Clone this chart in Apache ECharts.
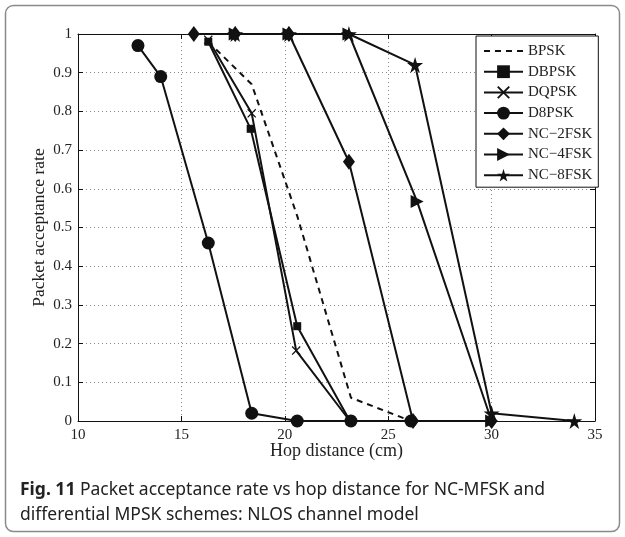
<!DOCTYPE html>
<html>
<head>
<meta charset="utf-8">
<script src="https://cdn.jsdelivr.net/npm/echarts@6.0.0/dist/echarts.min.js"></script>
<style>
html,body{margin:0;padding:0;background:#fff;}
#chart{width:625px;height:537px;}
</style>
</head>
<body>
<div id="chart"></div>
<script>
// ---- data (hop distance in cm, packet acceptance rate) ----
var seriesNames = ['BPSK', 'DBPSK', 'DQPSK', 'D8PSK', 'NC\u22122FSK', 'NC\u22124FSK', 'NC\u22128FSK'];
var bpsk   = [[16.3, 0.98], [18.4, 0.87], [20.6, 0.53], [23.2, 0.06], [26.1, 0]];
var dbpsk  = [[16.3, 0.98], [18.35, 0.755], [20.6, 0.245], [23.15, 0]];
var dqpsk  = [[16.3, 0.985], [18.4, 0.795], [20.55, 0.182], [23.15, 0]];
var d8psk  = [[12.9, 0.97], [14.0, 0.89], [16.3, 0.46], [18.4, 0.02], [20.6, 0], [23.2, 0], [26.1, 0]];
var nc2fsk = [[15.6, 1.0], [17.6, 1.0], [20.2, 1.0], [23.1, 0.67], [26.2, 0], [30, 0]];
var nc4fsk = [[17.6, 1.0], [20.2, 1.0], [23.1, 1.0], [26.4, 0.567], [30, 0]];
var nc8fsk = [[17.6, 1.0], [20.2, 1.0], [23.1, 1.0], [26.3, 0.92], [30, 0.02], [34, 0]];
var xTicks = {min: 10, max: 35, interval: 5};
var yTicks = {min: 0, max: 1, interval: 0.1};
var captionBold = 'Fig. 11';
var captionLine1 = ' Packet acceptance rate vs hop distance for NC-MFSK and';
var captionLine2 = 'differential MPSK schemes: NLOS channel model';

var INK = '#111';
var serif = '"Liberation Serif", "DejaVu Serif", serif';
var sans = '"Noto Sans", "Open Sans", sans-serif';
var starPath = 'path://M50,0 L61,35 L98,35 L68,57 L79,91 L50,70 L21,91 L32,57 L2,35 L39,35 Z';
var crossPath = 'path://M1,0 L5,4 L9,0 L10,1 L6,5 L10,9 L9,10 L5,6 L1,10 L0,9 L4,5 L0,1 Z';
var triRight = 'path://M0,0 L10,5 L0,10 Z';

function mk(name, data, symbol, size, dashed) {
  return {
    name: name, type: 'line', data: data,
    xAxisIndex: 0, yAxisIndex: 0,
    symbol: symbol, symbolSize: size, showSymbol: !dashed,
    lineStyle: {color: INK, width: 2, type: dashed ? [6, 5] : 'solid'},
    itemStyle: {color: dashed ? 'rgba(0,0,0,0)' : INK, borderColor: dashed ? 'rgba(0,0,0,0)' : INK, borderWidth: 0},
    animation: false, z: 3
  };
}

var chart = echarts.init(document.getElementById('chart'), null, {renderer: 'canvas'});
var axisCommon = {
  type: 'value',
  axisLine: {show: true, onZero: false, lineStyle: {color: INK, width: 1}},
  axisTick: {show: true, inside: true, length: 5, lineStyle: {color: INK}},
  splitLine: {show: true, lineStyle: {color: '#888', width: 1, type: [1, 3]}},
  axisLabel: {color: '#222', fontFamily: serif, fontSize: 15}
};
chart.setOption({
  animation: false,
  backgroundColor: '#fff',
  grid: {left: 78, top: 34, width: 517, height: 387, outerBoundsMode: 'none', containLabel: false},
  xAxis: [
    Object.assign({}, axisCommon, {
      min: xTicks.min, max: xTicks.max, interval: xTicks.interval,
      name: 'Hop distance (cm)', nameLocation: 'middle', nameGap: 21, nameMoveOverlap: false,
      nameTextStyle: {color: '#222', fontFamily: serif, fontSize: 18},
      axisLabel: Object.assign({}, axisCommon.axisLabel, {margin: 7})
    }),
    Object.assign({}, axisCommon, {
      position: 'top', min: xTicks.min, max: xTicks.max, interval: xTicks.interval,
      axisLabel: {show: false}, splitLine: {show: false}
    })
  ],
  yAxis: [
    Object.assign({}, axisCommon, {
      min: yTicks.min, max: yTicks.max, interval: yTicks.interval,
      name: 'Packet acceptance rate', nameLocation: 'middle', nameGap: 30, nameMoveOverlap: false,
      nameTextStyle: {color: '#222', fontFamily: serif, fontSize: 17.5},
      axisLabel: Object.assign({}, axisCommon.axisLabel, {margin: 6, formatter: function (v) { return String(Math.round(v * 10) / 10); }})
    }),
    Object.assign({}, axisCommon, {
      position: 'right', min: yTicks.min, max: yTicks.max, interval: yTicks.interval,
      axisLabel: {show: false}, splitLine: {show: false}
    })
  ],
  legend: {
    data: seriesNames,
    orient: 'vertical', left: 476, top: 36,
    padding: [7.5, 6, 4.5, 7], itemGap: 5.7, itemWidth: 39, itemHeight: 16,
    backgroundColor: '#fff', borderColor: INK, borderWidth: 1, borderRadius: 0,
    textStyle: {color: '#222', fontFamily: serif, fontSize: 15},
    z: 10
  },
  series: [
    mk(seriesNames[0], bpsk, 'circle', 1, true),
    mk(seriesNames[1], dbpsk, 'rect', 8, false),
    mk(seriesNames[2], dqpsk, crossPath, 9, false),
    mk(seriesNames[3], d8psk, 'circle', 13, false),
    mk(seriesNames[4], nc2fsk, 'diamond', [12, 16], false),
    mk(seriesNames[5], nc4fsk, triRight, 13, false),
    mk(seriesNames[6], nc8fsk, starPath, 16, false)
  ],
  graphic: [
    {type: 'rect', shape: {x: 5.5, y: 5.5, width: 614, height: 526, r: 8},
     style: {fill: 'none', stroke: '#8a8a8a', lineWidth: 1.5}, silent: true, z: 0},
    {type: 'text', left: 20, top: 481,
     style: {
       text: '{b|' + captionBold + '}{n|' + captionLine1 + '}\n{n|' + captionLine2 + '}',
       rich: {
         b: {fontFamily: sans, fontWeight: 'bold', fontSize: 17.5, fill: '#222', lineHeight: 25},
         n: {fontFamily: sans, fontSize: 17.5, fill: '#222', lineHeight: 25}
       }
     }, silent: true}
  ]
});
</script>
</body>
</html>
